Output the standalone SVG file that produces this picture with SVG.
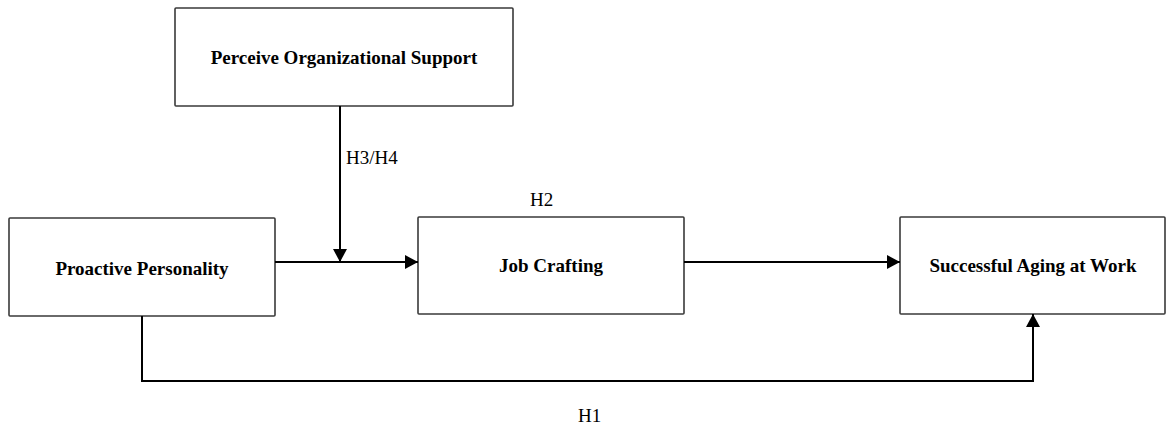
<svg xmlns="http://www.w3.org/2000/svg" width="1170" height="428" viewBox="0 0 1170 428">
  <style>
    .box { fill: #ffffff; stroke: #3a3a3a; stroke-width: 1.6; }
    .lbl { font-family: "Liberation Serif", "Times New Roman", serif; font-size: 19px; font-weight: bold; fill: #000; text-anchor: middle; }
    .hyp { font-family: "Liberation Serif", "Times New Roman", serif; font-size: 19px; fill: #000; }
    .conn { fill: none; stroke: #000; stroke-width: 2; }
  </style>
  <defs>
    <marker id="arrow" markerUnits="userSpaceOnUse" markerWidth="14" markerHeight="14" refX="13" refY="7" orient="auto">
      <path d="M0,0 L13,7 L0,14 Z" fill="#000"/>
    </marker>
  </defs>
  <rect x="0" y="0" width="1170" height="428" fill="#ffffff"/>

  <g id="node-pos">
    <rect class="box" x="175" y="8" width="338" height="98" rx="1"/>
    <text class="lbl" x="344" y="64">Perceive Organizational Support</text>
  </g>
  <g id="node-pp">
    <rect class="box" x="9" y="218" width="266" height="98" rx="1"/>
    <text class="lbl" x="142" y="275">Proactive Personality</text>
  </g>
  <g id="node-jc">
    <rect class="box" x="418" y="217" width="266" height="97" rx="1"/>
    <text class="lbl" x="551" y="272">Job Crafting</text>
  </g>
  <g id="node-saw">
    <rect class="box" x="900" y="217" width="265" height="97" rx="1"/>
    <text class="lbl" x="1033" y="272">Successful Aging at Work</text>
  </g>

  <g id="connectors">
    <line class="conn" x1="275" y1="262" x2="418" y2="262" marker-end="url(#arrow)"/>
    <line class="conn" x1="340" y1="106" x2="340" y2="262" marker-end="url(#arrow)"/>
    <line class="conn" x1="684" y1="262" x2="900" y2="262" marker-end="url(#arrow)"/>
    <polyline class="conn" points="142,316 142,381 1033,381 1033,314" marker-end="url(#arrow)"/>
    <text class="hyp" x="346" y="164">H3/H4</text>
    <text class="hyp" x="530" y="206">H2</text>
    <text class="hyp" x="578" y="422">H1</text>
  </g>
</svg>
